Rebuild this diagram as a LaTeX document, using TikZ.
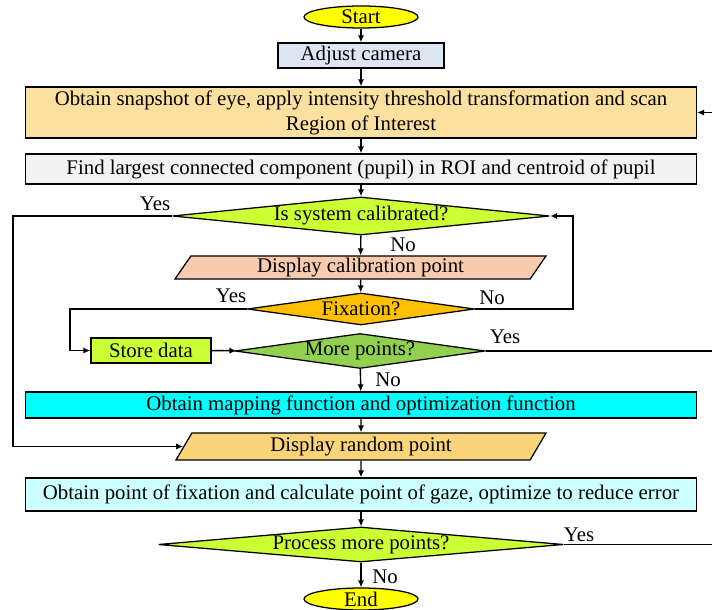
\documentclass[tikz,border=0pt]{standalone}
\usepackage{fontspec}
\setmainfont{Liberation Serif}
\usetikzlibrary{shapes.geometric,arrows.meta}

\definecolor{termyellow}{RGB}{255,255,0}
\definecolor{camblue}{RGB}{220,230,242}
\definecolor{roiorange}{RGB}{252,224,160}
\definecolor{pupilgray}{RGB}{242,242,242}
\definecolor{limegreen}{RGB}{204,255,51}
\definecolor{peach}{RGB}{248,203,173}
\definecolor{amber}{RGB}{255,192,0}
\definecolor{leafgreen}{RGB}{146,208,80}
\definecolor{mapcyan}{RGB}{0,255,255}
\definecolor{randomorange}{RGB}{250,212,120}
\definecolor{palecyan}{RGB}{204,255,255}

\begin{document}
\begin{tikzpicture}[
        font=\fontsize{14.8}{17.8}\selectfont,
        terminal/.style={ellipse, draw, line width=0.9pt, fill=termyellow, minimum width=2.85cm, minimum height=0.55cm, inner sep=0pt},
        box/.style={rectangle, draw, line width=0.9pt, inner sep=0pt, align=center},
        decision/.style={diamond, draw, line width=0.9pt, inner sep=0pt},
        iobox/.style={trapezium, draw, line width=0.9pt, trapezium left angle=50, trapezium right angle=130, trapezium stretches body, inner sep=0pt},
        conn/.style={line width=1pt, -{Latex[length=5pt,width=4.5pt]}},
        wire/.style={line width=1pt},
        lbl/.style={inner sep=0pt}
    ]
        \useasboundingbox (0,0) rectangle (17.8,-15.25);
        \node[terminal] (start) at (9.025,-0.425) {Start};
        \node[box, fill=camblue, minimum width=4.15cm, minimum height=0.625cm] (camera) at (9.025,-1.3875) {Adjust camera};
        \node[box, fill=roiorange, minimum width=16.775cm, minimum height=1.275cm] (roi) at (9.025,-2.8125) {Obtain snapshot of eye, apply intensity threshold transformation and scan\\Region of Interest};
        \node[box, fill=pupilgray, minimum width=16.775cm, minimum height=0.75cm] (pupil) at (9.025,-4.225) {Find largest connected component (pupil) in ROI and centroid of pupil};
        \node[decision, aspect=10.2, fill=limegreen, minimum width=9.425cm, minimum height=0.95cm] (calibrated) at (9.025,-5.4) {Is system calibrated?};
        \node[iobox, fill=peach, minimum width=9.275cm, minimum height=0.575cm] (calpoint) at (9.0125,-6.6875) {Display calibration point};
        \node[decision, aspect=7.1, fill=amber, minimum width=5.675cm, minimum height=0.8cm] (fixation) at (9.025,-7.725) {Fixation?};
        \node[box, fill=limegreen, minimum width=3cm, minimum height=0.625cm] (store) at (3.775,-8.7625) {Store data};
        \node[decision, aspect=7.1, fill=leafgreen, minimum width=6.25cm, minimum height=0.875cm] (more) at (9,-8.775) {More points?};
        \node[box, fill=mapcyan, minimum width=16.775cm, minimum height=0.65cm] (mapping) at (9.025,-10.125) {Obtain mapping function and optimization function};
        \node[iobox, fill=randomorange, minimum width=9.25cm, minimum height=0.675cm] (random) at (9.025,-11.1625) {Display random point};
        \node[box, fill=palecyan, minimum width=16.775cm, minimum height=0.825cm] (gaze) at (9.025,-12.3625) {Obtain point of fixation and calculate point of gaze, optimize to reduce error};
        \node[decision, aspect=11.4, fill=limegreen, minimum width=10.125cm, minimum height=0.875cm] (processmore) at (9.025,-13.6125) {Process more points?};
        \node[terminal] (stop) at (9.025,-14.975) {End};
        \node[lbl] (yescal) at (3.875,-5.1) {Yes};
        \node[lbl] (nocal) at (10.075,-6.125) {No};
        \node[lbl] (yesfix) at (5.775,-7.4) {Yes};
        \node[lbl] (nofix) at (12.3,-7.45) {No};
        \node[lbl] (yesmore) at (12.625,-8.425) {Yes};
        \node[lbl] (nomore) at (9.7,-9.5) {No};
        \node[lbl] (yesproc) at (14.475,-13.375) {Yes};
        \node[lbl] (noproc) at (9.625,-14.425) {No};
        \coordinate (leftbus) at (0.325,-5.4);
        \coordinate (storebus) at (1.75,-7.725);
        \coordinate (nobus) at (14.325,-7.725);
        \coordinate (roientry) at (17.8,-2.8125);
        \coordinate (moreexit) at (17.8,-8.775);
        \coordinate (procexit) at (17.8,-13.6125);
        \draw[conn] (start) -- (camera);
        \draw[conn] (camera) -- (roi);
        \draw[conn] (roi) -- (pupil);
        \draw[conn] (pupil) -- (calibrated);
        \draw[conn] (calibrated) -- (calpoint);
        \draw[conn] (calpoint) -- (fixation);
        \draw[conn] (calibrated.west) -- (leftbus) |- (random);
        \draw[conn] (fixation.west) -- (storebus) |- (store);
        \draw[conn] (fixation.east) -- (nobus) |- (calibrated.east);
        \draw[conn] (store) -- (more);
        \draw[wire] (more.east) -- (moreexit);
        \draw[conn] (more) -- (mapping);
        \draw[conn] (mapping) -- (random);
        \draw[conn] (random) -- (gaze);
        \draw[conn] (gaze) -- (processmore);
        \draw[wire] (processmore.east) -- (procexit);
        \draw[conn] (processmore) -- (stop);
        \draw[conn] (roientry) -- (roi.east);
    \end{tikzpicture}
\end{document}
